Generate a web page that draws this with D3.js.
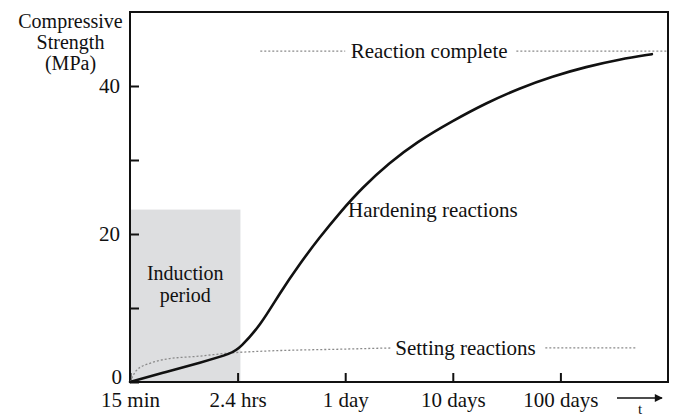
<!DOCTYPE html>
<html>
<head>
<meta charset="utf-8">
<script src="https://cdn.jsdelivr.net/npm/d3@7"></script>
<style>
  html, body { margin: 0; padding: 0; background: #fff; }
  svg { display: block; font-family: "Liberation Serif", "Times New Roman", serif; }
</style>
</head>
<body>
<svg id="chart" width="675" height="419"></svg>
<script>
// ---- data (time in hours, strength in MPa) ----
const tickHours = [0.24, 2.4, 24, 240, 2400];
const tickLabels = ["15 min", "2.4 hrs", "1 day", "10 days", "100 days"];
const yTicks = [0, 10, 20, 30, 40];
const yTickLabels = ["0", "", "20", "", "40"];

const hardeningHours = [0.24, 0.525, 1.07, 2.16, 2.51, 3.9, 5.9, 9.1, 13.8, 21.4, 34.7, 61.7, 110, 240, 490, 1000, 2020, 4170, 8510, 17000];
const hardeningMPa   = [0,    1.4,   2.6,  3.9,  4.6,  7.6, 12.0, 16.0, 19.5, 22.9, 26.3, 29.6, 32.4, 35.3, 37.7, 39.7, 41.3, 42.6, 43.6, 44.3];

const settingHours = [0.24, 0.277, 0.372, 0.525, 1.07, 2.16, 3.9, 24, 64.6];
const settingMPa   = [0,    1.6,   2.56,  3.1,   3.5,  3.95, 4.15, 4.45, 4.6];
const settingTailHours = [1738, 12030];
const settingTailMPa   = [4.6, 4.6];

const completeLeftHours  = [3.9, 24];
const completeRightHours = [935, 24000];
const completeMPa = 44.7;

const inductionHours = [0.24, 2.55];
const inductionMPa = 23.3;

// ---- layout ----
const svg = d3.select("#chart");
const pl = 130, pr = 668, pt = 12, pb = 382;
const x = d3.scaleLog().domain([0.24, 24000]).range([pl, pr]);
const y = d3.scaleLinear().domain([0, 50]).range([pb, pt]);
const fs = 21;

// induction shading
svg.append("rect")
  .attr("x", x(inductionHours[0]))
  .attr("y", y(inductionMPa))
  .attr("width", x(inductionHours[1]) - x(inductionHours[0]))
  .attr("height", y(0) - y(inductionMPa))
  .attr("fill", "#dddee0");

// frame
svg.append("rect")
  .attr("x", pl).attr("y", pt)
  .attr("width", pr - pl).attr("height", pb - pt)
  .attr("fill", "none").attr("stroke", "#111").attr("stroke-width", 2);

// axes
const xAxis = d3.axisBottom(x)
  .tickValues(tickHours)
  .tickFormat((d, i) => tickLabels[i])
  .tickSizeInner(-9).tickSizeOuter(0).tickPadding(10);
const gx = svg.append("g").attr("transform", `translate(0,${pb})`).call(xAxis);
gx.select(".domain").remove();
gx.selectAll(".tick line").attr("stroke", "#111").attr("stroke-width", 2);
gx.selectAll(".tick text").attr("font-size", fs).attr("fill", "#111")
  .attr("font-family", "Liberation Serif, serif");

const yAxis = d3.axisLeft(y)
  .tickValues(yTicks)
  .tickFormat((d, i) => yTickLabels[i])
  .tickSizeInner(-9).tickSizeOuter(0).tickPadding(10);
const gy = svg.append("g").attr("transform", `translate(${pl},0)`).call(yAxis);
gy.select(".domain").remove();
gy.selectAll(".tick line").attr("stroke", "#111").attr("stroke-width", 2);
gy.selectAll(".tick text").attr("font-size", fs).attr("fill", "#111")
  .attr("font-family", "Liberation Serif, serif");
gy.selectAll(".tick text").filter(d => d === 0).attr("y", -5).attr("x", -8);

// y axis title
const title = ["Compressive", "Strength", "(MPa)"];
svg.append("text").attr("font-size", 20).attr("fill", "#111").attr("text-anchor", "middle")
  .selectAll("tspan").data(title).join("tspan")
  .attr("x", 70.5).attr("y", (d, i) => 28 + i * 21).text(d => d);

// dotted lines
const dotted = (pts) => svg.append("path").datum(pts)
  .attr("d", d3.line().x(d => x(d[0])).y(d => y(d[1])).curve(d3.curveMonotoneX))
  .attr("fill", "none").attr("stroke", "#8a8a8a").attr("stroke-width", 1.3)
  .attr("stroke-dasharray", "2,2");

dotted(settingHours.map((h, i) => [h, settingMPa[i]]));
dotted(settingTailHours.map((h, i) => [h, settingTailMPa[i]]));
dotted(completeLeftHours.map(h => [h, completeMPa]));
dotted(completeRightHours.map(h => [h, completeMPa]));

// hardening curve
svg.append("path")
  .datum(hardeningHours.map((h, i) => [h, hardeningMPa[i]]))
  .attr("d", d3.line().x(d => x(d[0])).y(d => y(d[1])).curve(d3.curveBasis))
  .attr("fill", "none").attr("stroke", "#111").attr("stroke-width", 2.6)
  .attr("stroke-linecap", "round");

// annotations
const ann = (txt, hx, v, dy, anchor) => svg.append("text")
  .attr("x", x(hx)).attr("y", y(v) + dy)
  .attr("font-size", fs).attr("fill", "#111").attr("text-anchor", anchor || "start").text(txt);

ann("Reaction complete", 27, completeMPa, 7);
ann("Hardening reactions", 25.5, 22.3, 0);
ann("Setting reactions", 70, 4.6, 7);

svg.append("text").attr("font-size", 20).attr("fill", "#111").attr("text-anchor", "middle")
  .selectAll("tspan").data(["Induction", "period"]).join("tspan")
  .attr("x", (x(inductionHours[0]) + x(inductionHours[1])) / 2)
  .attr("y", (d, i) => y(13.8) + i * 22).text(d => d);

// time arrow
const defs = svg.append("defs");
defs.append("marker").attr("id", "ah").attr("viewBox", "0 0 10 10")
  .attr("refX", 9).attr("refY", 5).attr("markerWidth", 10).attr("markerHeight", 8)
  .attr("markerUnits", "userSpaceOnUse").attr("orient", "auto")
  .append("path").attr("d", "M0,0 L10,5 L0,10 Z").attr("fill", "#111");
svg.append("line").attr("x1", 617).attr("x2", 662).attr("y1", 398).attr("y2", 398)
  .attr("stroke", "#111").attr("stroke-width", 1.6).attr("marker-end", "url(#ah)");
svg.append("text").attr("x", 640).attr("y", 414).attr("font-size", 15)
  .attr("fill", "#111").attr("text-anchor", "middle").text("t");
</script>
</body>
</html>
